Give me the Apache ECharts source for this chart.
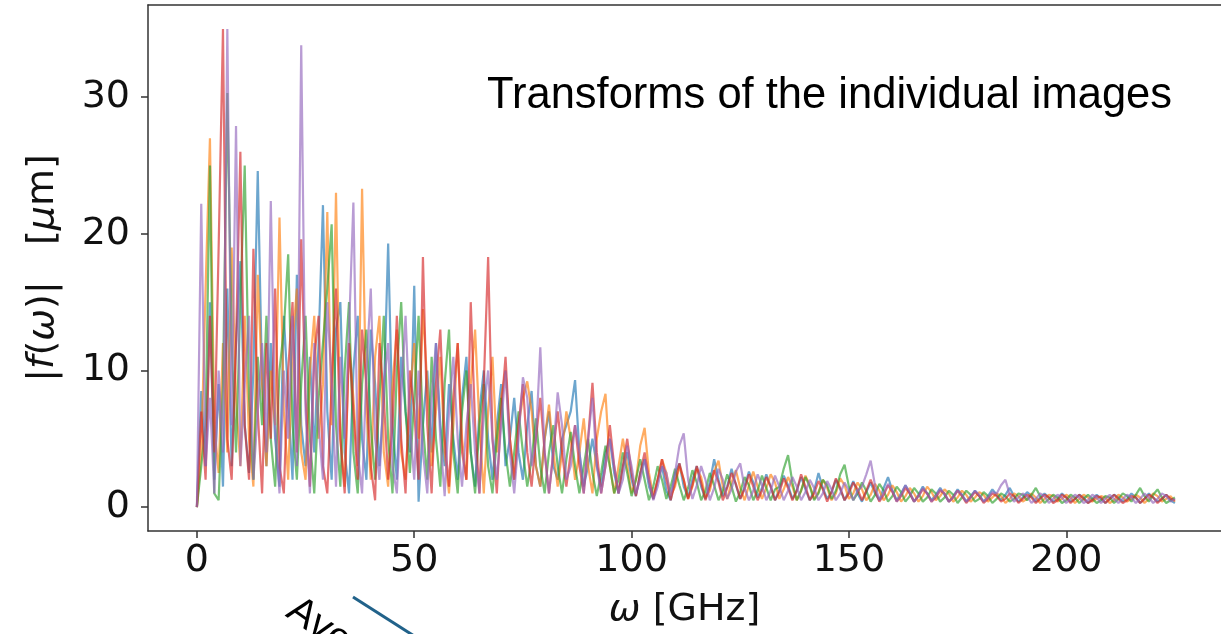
<!DOCTYPE html>
<html><head><meta charset="utf-8">
<script src="https://cdn.jsdelivr.net/npm/echarts@6/dist/echarts.min.js"></script>
<style>html,body{margin:0;padding:0;background:#fff}#c{width:1221px;height:634px}</style>
</head><body><div id="c"></div>
<script>
// frequency grid [GHz]
const omega = [0,1,2,3,4,5,6,7,8,9,10,11,12,13,14,15,16,17,18,19,20,21,22,23,24,25,26,27,28,29,30,31,32,33,34,35,36,37,38,39,40,41,42,43,44,45,46,47,48,49,50,51,52,53,54,55,56,57,58,59,60,61,62,63,64,65,66,67,68,69,70,71,72,73,74,75,76,77,78,79,80,81,82,83,84,85,86,87,88,89,90,91,92,93,94,95,96,97,98,99,100,101,102,103,104,105,106,107,108,109,110,111,112,113,114,115,116,117,118,119,120,121,122,123,124,125,126,127,128,129,130,131,132,133,134,135,136,137,138,139,140,141,142,143,144,145,146,147,148,149,150,151,152,153,154,155,156,157,158,159,160,161,162,163,164,165,166,167,168,169,170,171,172,173,174,175,176,177,178,179,180,181,182,183,184,185,186,187,188,189,190,191,192,193,194,195,196,197,198,199,200,201,202,203,204,205,206,207,208,209,210,211,212,213,214,215,216,217,218,219,220,221,222,223,224,225];

// |f(omega)| [um] for each individual image
const img1 = [0,8.5,3,15,2,9,1.5,16,3,12, 18,6,2.5,10,24.6,9,3,12,5,1.5, 14,8,2,17,6,3,11,4,12,22.1, 7,2,13,15,4,1,10,14,5,2, 13,9,3,8,19.3,6,2,11,7,4, 16.2,0.4,6,10,4,12,6,3,9,5, 2,8,11,4,1.5,7,10,5,2,6, 9,3,5,8,4,2,6,8.5,3,1.5, 5,7,3,2,5,6,7,9.3,4,1.5, 3,5,3,1.5,4,5,2.5,1,3,4, 2,0.8,2.5,3.5,1.5,0.6,2,3,1.2,0.5, 2.5,3.2,1.5,0.7,2,3,1.5,0.6,1.8,3.5, 2,0.8,1.5,2.8,1.6,0.6,1.5,2.6,1.8,0.7, 1.4,2.4,1.5,0.5,1.3,2.3,1.6,0.6,1.2,2.2, 1.3,0.5,1.2,2.5,1.4,0.6,1.1,2.0,1.3,0.5, 1.2,1.9,1.0,0.4,1.1,1.8,1.0,0.5,1.4,2.2, 1.2,0.5,1.0,1.6,1.0,0.4,0.9,1.5,1.0,0.5, 0.9,1.4,0.9,0.4,0.8,1.3,0.9,0.4,0.8,1.2, 0.8,0.4,0.8,1.3,0.9,0.5,0.9,1.4,0.8,0.4, 0.7,1.1,0.8,0.4,0.7,1.0,0.7,0.4,0.6,1.0, 0.7,0.4,0.6,0.9,0.7,0.3,0.6,0.9,0.6,0.3, 0.6,0.9,0.7,0.4,0.6,1.0,0.7,0.3,0.6,1.0, 0.7,0.4,0.6,0.9,0.5,0.3];
const img2 = [0,4,16,27,6,2.5,12,4,19,8, 3,14,5,1.5,17,9,3,10,6,21.2, 7,2,12,16,4,2,10,14,5,9, 21.6,6,23,5,1.5,12,8,3,23.3,7, 2,11,14,4,1.5,9,13,4,2,8, 12,5,14.5,9,3,7,11,4,1,6, 12,5,2,9,13,6,1,7,11,4, 8,10,5,2,6,8,9.2,7,3,1.5, 5,7.5,4,1.5,4,7,5,2,4,6.5, 3,1,5,7,8.3,3,1,3,5,3, 1,2,4.5,5.8,2.5,0.8,2,3.5,2.5,0.8, 1.5,3,2,0.6,1.5,2.8,2.2,0.7,1.2,2.6, 3.4,1.5,0.6,1.8,2.7,1.4,0.5,1.6,2.6,1.5, 0.6,1.4,2.4,1.8,0.6,1.3,2.2,1.5,0.5,1.2, 2.3,1.6,0.6,1.1,2.0,1.4,0.5,1.0,2.1,1.6, 0.6,1.0,1.8,1.3,0.5,0.9,1.7,1.2,0.5,0.9, 1.6,1.1,0.4,0.8,1.4,1.0,0.4,0.8,1.5,1.1, 0.5,0.8,1.3,1.0,0.4,0.7,1.2,0.9,0.4,0.7, 1.1,0.9,0.4,0.7,1.0,0.8,0.3,0.6,1.0,0.8, 0.4,0.6,1.0,0.7,0.3,0.6,0.9,0.8,0.4,0.6, 0.9,0.7,0.3,0.6,0.9,0.7,0.4,0.6,0.8,0.7, 0.3,0.5,0.9,0.7,0.4,0.6,0.9,0.7,0.3,0.6, 1.0,0.8,0.4,0.6,0.8,0.4];
const img3 = [0,3,6,25,1,0.5,9,30.3,12,4, 15,25,8,2,11,6,14,5,1.5,10, 13,18.5,6,2,9,14,5,1,8,12, 16,20.7,6,1.5,10,15,4,1,9,13, 6,2,8,14,5,1,10,15,7,2.5, 8,14,6,2,11,5,1.5,9,13,4, 1,7,10,4,1,6,9,3,1,5, 8,4,1.5,4,7,4,1.5,3.5,6.5,3, 1,4,6,3,1,3.5,5.5,3,1,3, 5,2.5,0.8,2.5,4.5,3,1,2,4,2.5, 0.8,2,3.5,2,0.5,1.5,3,2,0.6,1.5, 2.8,1.6,0.5,1.4,2.7,1.8,0.5,1.2,2.5,1.6, 0.5,1.2,2.4,1.5,0.4,1.1,2.2,1.6,0.5,1.2, 2.3,1.4,0.5,1.3,1.5,2.8,3.8,1.8,0.5,1.2, 2.2,1.5,0.5,1.0,2.0,1.6,0.6,1.2,2.4,3.1, 1.5,0.5,1.0,1.8,1.2,0.4,0.9,1.7,1.2,0.4, 0.8,1.5,1.1,0.4,0.8,1.4,1.0,0.4,0.7,1.3, 1.0,0.4,0.7,1.2,0.9,0.3,0.7,1.2,0.9,0.4, 0.6,1.1,0.8,0.3,0.6,1.0,0.8,0.4,0.6,1.0, 0.9,0.5,0.9,1.4,0.8,0.3,0.6,0.9,0.7,0.3, 0.5,0.9,0.7,0.3,0.6,0.9,0.6,0.3,0.5,0.8, 0.7,0.3,0.6,1.0,0.8,0.4,0.9,1.4,0.8,0.4, 0.9,1.3,0.7,0.3,0.5,0.7];
const img4 = [0,7,2,14,4,19,35,5,2,12, 26,6,2,18.9,7,1,12,5,16,3, 1,10,15,4,19.6,8,1.5,11,14,3, 1,9,16,5,1,12,7,2,13,9, 3,0.5,12,8,2,6,14,5,1,10, 7,2,18.3,6,1,9,13,5,1.5,8, 12,4,2,15,6,1,9,18.3,5,1, 7,11,5,2,6,9,4,1.5,5,8, 4,1,4,7,4,1.5,4,6,3,1, 5,9.1,4,1,3,6,3,1,3,5, 2.5,0.8,2.5,4,2,0.6,2,3.5,2,0.5, 1.8,3.2,2,0.6,1.6,3,1.8,0.5,1.5,2.7, 1.8,0.5,1.4,2.5,1.7,0.6,1.3,2.4,1.5,0.5, 1.2,2.2,1.5,0.5,1.1,2.1,1.4,0.5,1.2,2.4, 1.5,0.5,1.0,1.9,1.3,0.4,1.1,2.1,1.4,0.5, 1.0,1.8,1.3,0.5,1.2,2.0,1.2,0.4,0.9,1.6, 1.1,0.4,0.8,1.4,1.0,0.4,0.8,1.3,1.0,0.4, 0.7,1.2,1.0,0.4,0.7,1.2,0.8,0.3,0.7,1.1, 0.8,0.3,0.6,1.0,0.8,0.4,0.6,1.0,0.8,0.3, 0.6,0.9,0.7,0.3,0.6,0.9,0.7,0.3,0.5,0.9, 0.7,0.3,0.6,0.9,0.6,0.3,0.5,0.8,0.7,0.3, 0.6,0.9,0.6,0.3,0.5,0.8,0.7,0.3,0.6,0.9, 0.7,0.3,0.6,0.9,0.6,0.5];
const img5 = [0,22.2,3,8,1,10,4,35,6,27.9, 3,9,14,2,7,12,4,22.4,6,1, 10,5,14,3,33.8,7,1,12,6,2, 15,9,1.5,11,5,13,22.3,4,1,10, 16,5,2,9,12,3,1,8,14,6, 2,10,4,1,8,12,5,0.8,7,11, 5,1.5,6,9,4,1,7,10,5,2, 6,10,4,1,5,9.5,8,3,5,11.7, 4,1,4,8.4,6,2,3,6,4,1, 5,8,3,1,3,5,3,1,2,4.5, 3,1,2,3.5,2,0.5,1.5,3,2.5,0.8, 2.5,4.5,5.4,2,0.6,1.6,3,2,0.5,1.4, 2.8,2,0.6,1.3,2.6,3.2,1.4,0.5,1.2,2.4, 1.6,0.5,1.2,2.3,1.5,0.5,1.2,2.2,1.5,0.5, 1.1,2.0,1.4,0.5,1.0,1.9,1.3,0.5,1.0,1.8, 1.2,0.5,1.2,1.5,2.4,3.4,1.6,0.5,1.0,1.7, 1.2,0.4,0.9,1.6,1.1,0.4,0.8,1.4,1.0,0.4, 0.8,1.3,1.0,0.4,0.7,1.2,0.9,0.4,0.7,1.2, 0.9,0.4,0.7,1.1,1.0,1.6,2.0,0.9,0.4,0.7, 1.0,0.8,0.3,0.6,1.0,0.8,0.3,0.6,0.9,0.7, 0.3,0.6,0.9,0.7,0.3,0.5,0.9,0.7,0.3,0.6, 0.9,0.6,0.3,0.6,0.9,0.7,0.3,0.6,1.0,0.7, 0.3,0.6,1.0,0.8,0.4,0.6];

const seriesNames = ['image 1','image 2','image 3','image 4','image 5'];
const seriesValues = [img1, img2, img3, img4, img5];
const colors = ['#1f77b4','#ff7f0e','#2ca02c','#d62728','#9467bd'];
const xTicks = [0, 50, 100, 150, 200];
const yTicks = [0, 10, 20, 30];
const titleText = 'Transforms of the individual images';
const noteText = 'Average';

const FONT = '"DejaVu Sans", sans-serif';
const SPINE = {color: '#333', width: 1.5};
const chart = echarts.init(document.getElementById('c'), null, {renderer: 'canvas'});

const series = seriesValues.map((vals, k) => ({
  name: seriesNames[k],
  type: 'line',
  xAxisIndex: 0,
  data: omega.map((w, i) => [w, vals[i]]),
  showSymbol: false,
  symbol: 'none',
  smooth: false,
  clip: true,
  lineStyle: {color: colors[k], width: 2.2, opacity: 0.65},
  itemStyle: {color: colors[k]},
  emphasis: {disabled: true},
  z: 2 + k
}));

chart.setOption({
  animation: false,
  backgroundColor: '#fff',
  grid: {left: 148, top: 5, right: 0, bottom: 103, show: false},
  xAxis: [{
    type: 'value', min: -11.25, max: 235.6, position: 'bottom',
    splitLine: {show: false},
    axisLine: {show: true, onZero: false, lineStyle: SPINE},
    axisTick: {show: true, inside: false, length: 7, customValues: xTicks, lineStyle: SPINE},
    axisLabel: {customValues: xTicks, fontFamily: FONT, fontSize: 38, color: '#111', margin: 11},
    name: '{i|ω} [GHz]',
    nameLocation: 'middle',
    nameGap: 60,
    nameTextStyle: {fontFamily: FONT, fontSize: 38, color: '#111',
      rich: {i: {fontFamily: FONT, fontSize: 38, fontStyle: 'italic', color: '#111'}}}
  }, {
    type: 'value', min: -11.25, max: 235.6, position: 'top',
    splitLine: {show: false},
    axisLine: {show: true, onZero: false, lineStyle: SPINE},
    axisTick: {show: false},
    axisLabel: {show: false}
  }],
  yAxis: {
    type: 'value', min: -1.75, max: 36.75,
    splitLine: {show: false},
    axisLine: {show: true, onZero: false, lineStyle: SPINE},
    axisTick: {show: true, inside: false, length: 7, customValues: yTicks, lineStyle: SPINE},
    axisLabel: {customValues: yTicks, fontFamily: FONT, fontSize: 38, color: '#111', margin: 18},
    name: '|{i|f}({i|ω})|   [{i|μ}m]',
    nameLocation: 'middle',
    nameRotate: 90,
    nameGap: 86,
    nameTextStyle: {fontFamily: FONT, fontSize: 38, color: '#111',
      rich: {i: {fontFamily: FONT, fontSize: 38, fontStyle: 'italic', color: '#111'}}}
  },
  series: series,
  graphic: [
    {type: 'text', x: 487, y: 96, z: 100,
      style: {text: titleText, fontFamily: '"Liberation Sans", Arial, sans-serif', fontSize: 43.5, fill: '#000', verticalAlign: 'middle', align: 'left'}},
    {type: 'text', x: 302, y: 590, rotation: -0.6, z: 100,
      style: {text: noteText, fontFamily: '"Liberation Sans", Arial, sans-serif', fontSize: 40, fill: '#000', verticalAlign: 'top', align: 'left'}},
    {type: 'line', z: 100, shape: {x1: 353, y1: 597, x2: 422, y2: 641},
      style: {stroke: '#21628a', lineWidth: 3}}
  ]
});
</script>
</body></html>
